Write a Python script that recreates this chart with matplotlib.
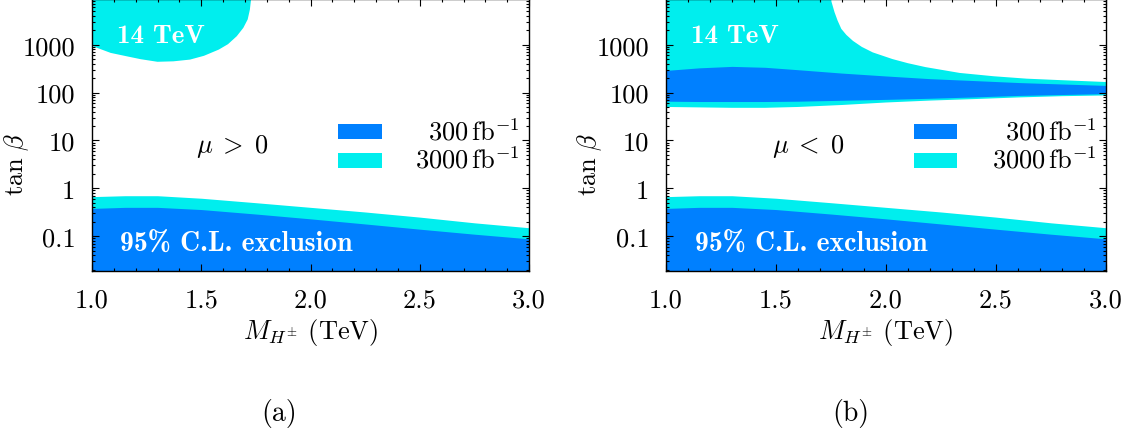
import matplotlib
matplotlib.use("Agg")
import matplotlib.pyplot as plt
import numpy as np
from matplotlib.patches import Rectangle
from matplotlib.ticker import MultipleLocator, LogLocator, NullFormatter

plt.rcParams.update({
    "font.family": "serif",
    "font.serif": ["cmr10"],
    "mathtext.fontset": "cm",
    "axes.unicode_minus": False,
    "axes.formatter.use_mathtext": True,
})

DARK = "#0080ff"   # 300 fb^-1
CYAN = "#00eeee"   # 3000 fb^-1
FS = 19

# ── data ──────────────────────────────────────────────────────────────────
# low tan(beta) exclusion, identical for mu > 0 and mu < 0
m_low       = [1.0, 1.15, 1.3, 1.5, 1.75, 2.0, 2.25, 2.5, 2.75, 3.0]
tb_low_300  = [0.38, 0.40, 0.40, 0.36, 0.29, 0.23, 0.18, 0.14, 0.11, 0.088]
tb_low_3000 = [0.67, 0.70, 0.70, 0.62, 0.50, 0.40, 0.32, 0.25, 0.19, 0.15]

# mu > 0 : high tan(beta) reach, 3000 fb^-1 only (lower edge of region)
m_hi_pos       = [1.0, 1.083, 1.165, 1.22, 1.297, 1.37, 1.446, 1.51, 1.578,
                  1.62, 1.66, 1.69, 1.71, 1.72, 1.726]
tb_hi_pos_3000 = [955, 690, 575, 510, 450, 460, 500, 600, 810,
                  1050, 1540, 2300, 3450, 5500, 9500]

# mu < 0 : band around tan(beta) ~ 100
m_band          = [1.0, 1.15, 1.3, 1.45, 1.6, 1.8, 2.0, 2.2, 2.4, 2.6, 2.8, 3.0]
tb_band_300_hi  = [290, 328, 352, 337, 300, 255, 222, 195, 178, 162, 151, 141]
tb_band_300_lo  = [66, 65, 65, 65, 66, 69, 72, 76, 81, 87, 91, 95]
tb_band_3000_lo = [50, 49, 48, 48, 50, 55, 62, 68, 73, 79, 84, 87]
# upper edge of the 3000 fb^-1 region (open to the top below ~1.75 TeV)
m_band_3000_up  = [1.0, 1.748, 1.752, 1.766, 1.78, 1.797, 1.82, 1.85, 1.89,
                   1.94, 2.03, 2.10, 2.18, 2.335, 2.49, 2.64, 2.79, 3.0]
tb_band_3000_up = [2e4, 2e4, 8000, 4800, 3200, 2140, 1600, 1200, 900,
                   690, 500, 410, 340, 257, 219, 195, 182, 166]

xtick_vals   = [1.0, 1.5, 2.0, 2.5, 3.0]
xtick_labels = ["1.0", "1.5", "2.0", "2.5", "3.0"]
ytick_vals   = [0.1, 1, 10, 100, 1000]
ytick_labels = ["0.1", "1", "10", "100", "1000"]

leg_labels = [r"$300\,\mathrm{fb}^{-1}$", r"$3000\,\mathrm{fb}^{-1}$"]
leg_colors = [DARK, CYAN]

FLOOR = 1e-3


def style(ax):
    ax.set_yscale("log")
    ax.set_xlim(1.0, 3.0)
    ax.set_ylim(0.019, 9000)
    ax.set_xticks(xtick_vals, xtick_labels)
    ax.xaxis.set_minor_locator(MultipleLocator(0.1))
    ax.set_yticks(ytick_vals, ytick_labels)
    ax.yaxis.set_minor_locator(LogLocator(base=10, subs=np.arange(2, 10), numticks=20))
    ax.yaxis.set_minor_formatter(NullFormatter())
    ax.tick_params(which="both", direction="in", top=True, right=True,
                   labelsize=FS, width=0.8)
    ax.tick_params(which="major", length=5, pad=12)
    ax.tick_params(which="minor", length=2.5)
    for sp in ax.spines.values():
        sp.set_linewidth(1.0)
    ax.set_xlabel(r"$M_{H^{\pm}}$ (TeV)", fontsize=FS)
    ax.set_ylabel(r"$\tan\,\beta$", fontsize=FS)
    ax.xaxis.set_label_coords(0.5, -0.165)
    ax.yaxis.set_label_coords(-0.14, 0.396)


def legend(ax):
    for label, color, y0 in zip(leg_labels, leg_colors, [0.4847, 0.378]):
        ax.add_patch(Rectangle((0.5635, y0), 0.099, 0.0553, transform=ax.transAxes,
                               facecolor=color, edgecolor="none"))
        ax.text(0.978, y0, label, ha="right", va="baseline", fontsize=FS,
                transform=ax.transAxes)


def low_exclusion(ax):
    ax.fill_between(m_low, FLOOR, tb_low_3000, color=CYAN, lw=0)
    ax.fill_between(m_low, FLOOR, tb_low_300, color=DARK, lw=0)
    ax.text(1.13, 0.052, "95% C.L. exclusion", family="cmb10", color="white",
            fontsize=FS + 1, ha="left", va="baseline")


def label_14tev(ax):
    ax.text(1.115, 1120, "14 TeV", family="cmb10", color="white", fontsize=FS + 0.5,
            ha="left", va="baseline")


fig = plt.figure(figsize=(11.39, 4.35), dpi=100)
ax1 = fig.add_axes([0.0808, 0.3754, 0.3837, 0.6246])
ax2 = fig.add_axes([0.5847, 0.3754, 0.3863, 0.6246])

# ── (a) mu > 0 ─────────────────────────────────────────────────────────────
ax1.fill_between(m_hi_pos, tb_hi_pos_3000, 2e4, color=CYAN, lw=0)
low_exclusion(ax1)
label_14tev(ax1)
ax1.text(1.64, 5.7, r"$\mu\;>\;0$", fontsize=FS, ha="center", va="baseline")
legend(ax1)
style(ax1)

# ── (b) mu < 0 ─────────────────────────────────────────────────────────────
ax2.fill(np.r_[m_band, m_band_3000_up[::-1]],
         np.r_[tb_band_3000_lo, tb_band_3000_up[::-1]], color=CYAN, lw=0)
ax2.fill_between(m_band, tb_band_300_lo, tb_band_300_hi, color=DARK, lw=0)
low_exclusion(ax2)
label_14tev(ax2)
ax2.text(1.645, 5.7, r"$\mu\;<\;0$", fontsize=FS, ha="center", va="baseline")
legend(ax2)
style(ax2)

fig.text(0.245, 0.05, "(a)", fontsize=FS + 1, ha="center", va="center")
fig.text(0.747, 0.05, "(b)", fontsize=FS + 1, ha="center", va="center")

fig.savefig("out.png", dpi=100)
